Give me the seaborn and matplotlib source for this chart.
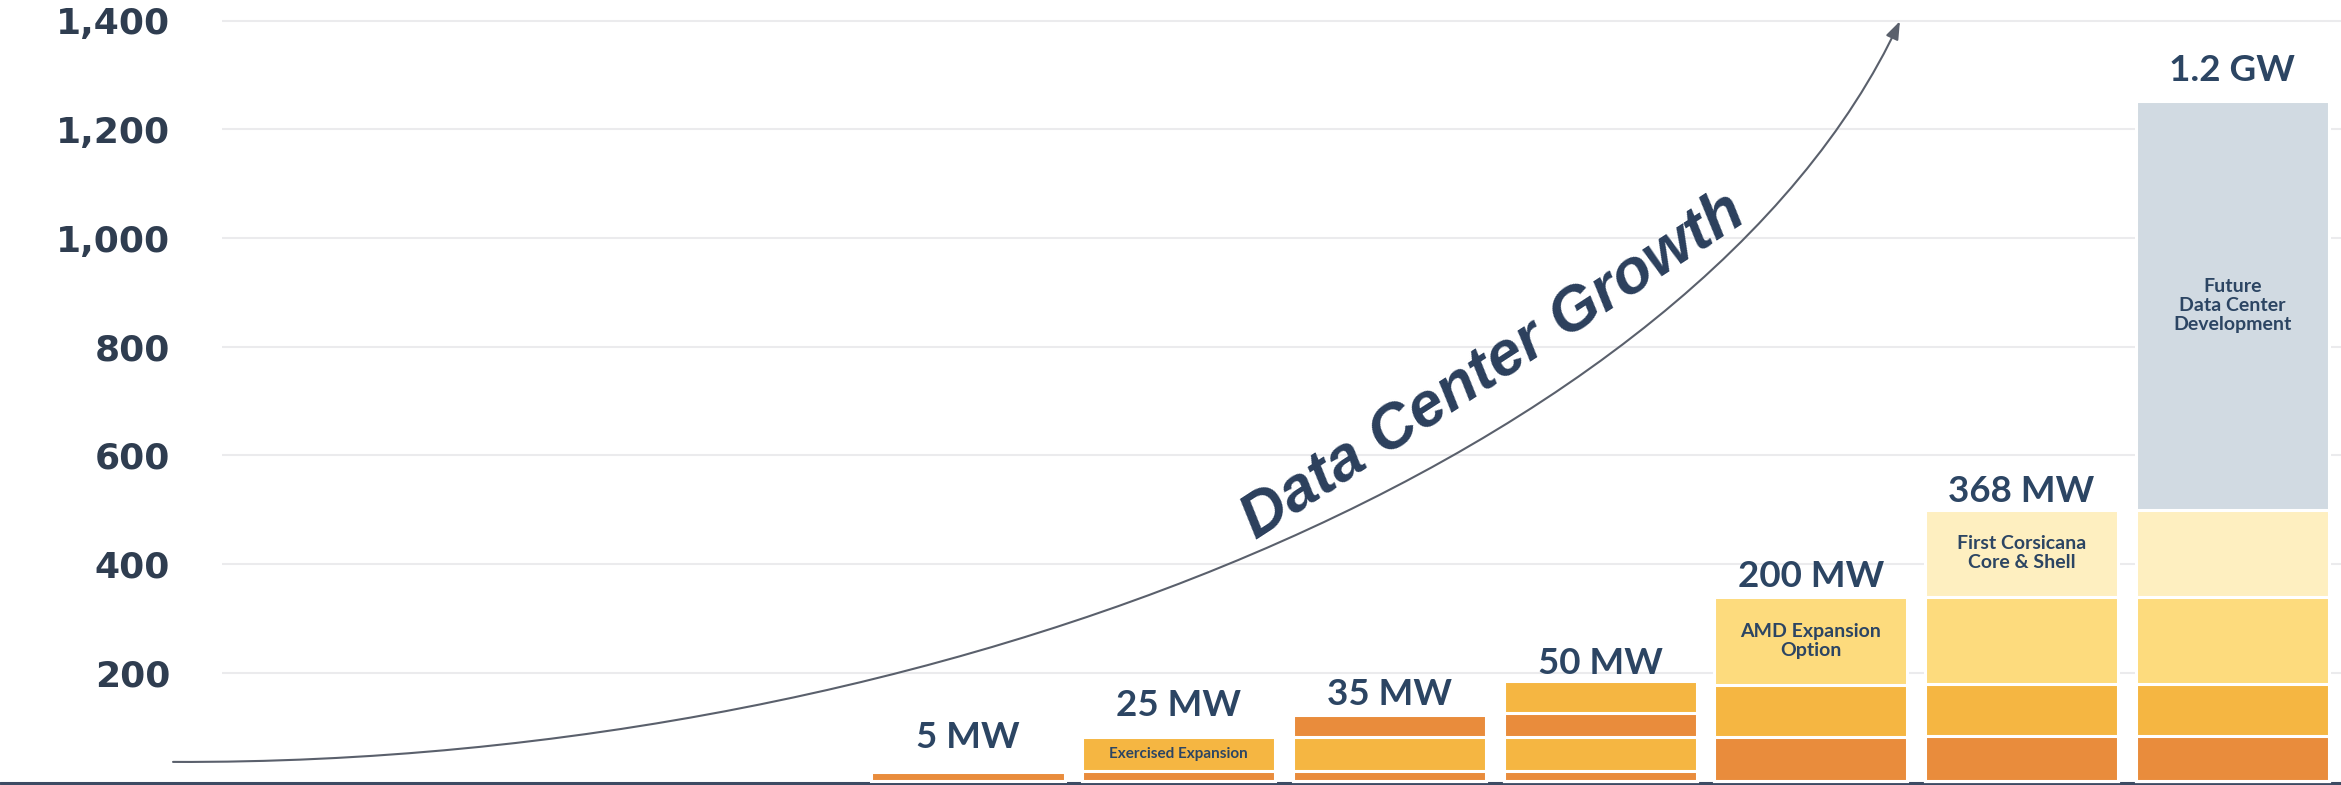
# ==========================================================
# DATA CENTER GROWTH - STACKED CAPACITY BLOCKS
# ==========================================================

import pandas as pd
import matplotlib
matplotlib.use("Agg")
import matplotlib.pyplot as plt
import seaborn as sns
from matplotlib.patches import FancyArrowPatch
from matplotlib.path import Path

# ==========================
# Data
# ==========================

bar_labels = ["5 MW", "25 MW", "35 MW", "50 MW", "200 MW", "368 MW", "1.2 GW"]

# cumulative top of each block in a bar, bottom to top (axis units)
block_tops = [
    [18],
    [19, 81],
    [19, 82, 122],
    [19, 82, 126, 184],
    [81, 178, 339],
    [83, 180, 340, 500],
    [83, 179, 340, 499, 1252],
]

block_kinds = [
    ["base"],
    ["base", "phase2"],
    ["base", "phase2", "base"],
    ["base", "phase2", "base", "phase2"],
    ["base", "phase2", "phase3"],
    ["base", "phase2", "phase3", "phase4"],
    ["base", "phase2", "phase3", "phase4", "future"],
]

# text inside a block: (bar index, block index, text)
block_notes = [
    (1, 1, "Exercised Expansion"),
    (4, 2, "AMD Expansion\nOption"),
    (5, 3, "First Corsicana\nCore & Shell"),
    (6, 4, "Future\nData Center\nDevelopment"),
]

y_ticks = [200, 400, 600, 800, 1000, 1200, 1400]

# ==========================
# Styling
# ==========================

kind_colors = {
    "base": "#E98C3C",
    "phase2": "#F5B642",
    "phase3": "#FDDB7D",
    "phase4": "#FEEFC0",
    "future": "#D1DAE2",
}
note_sizes = [11, 14, 14, 14]
label_pads_px = [22, 20, 9, 6, 9, 6, 19]
navy = "#2C4563"

# ==========================
# Long table of blocks
# ==========================

rows = []
for i, (tops, kinds) in enumerate(zip(block_tops, block_kinds)):
    for k, (top, kind) in enumerate(zip(tops, kinds)):
        rows.append({
            "bar": bar_labels[i],
            "level": k,
            "top": top,
            "color": kind_colors[kind],
        })
blocks = pd.DataFrame(rows)

# ==========================
# Figure
# ==========================

sns.set_style("white")

W, H = 2341, 785
fig = plt.figure(figsize=(W / 100, H / 100), dpi=100)
left_px = 222
ax = fig.add_axes([left_px / W, 0, 1 - left_px / W, 1])

# draw the tallest layer first, lower blocks cover it
for level in sorted(blocks["level"].unique(), reverse=True):
    layer = blocks[blocks["level"] == level]
    sns.barplot(
        data=layer,
        x="bar",
        y="top",
        hue="bar",
        order=bar_labels,
        palette=dict(zip(layer["bar"], layer["color"])),
        saturation=1,
        dodge=False,
        width=0.916,
        errorbar=None,
        edgecolor="white",
        linewidth=2.2,
        legend=False,
        ax=ax,
    )

pitch = 210.7
ax.set_xlim(-(968 - left_px) / pitch, (W - 968) / pitch)
ax.set_ylim(-6.5, 1438)

ax.set_xticks([])
ax.set_xlabel("")
ax.set_ylabel("")
ax.set_yticks(y_ticks)
ax.set_yticklabels([f"{t:,}" for t in y_ticks])
ax.tick_params(axis="y", length=0, pad=52 * 0.72, labelsize=26, labelcolor="#2F3D50")
for lbl in ax.get_yticklabels():
    lbl.set_fontweight("bold")
    lbl.set_family("DejaVu Sans")

ax.grid(axis="y", color="#EBEBED", linewidth=1.5)
ax.set_axisbelow(True)
sns.despine(ax=ax, left=True, bottom=True)

# dark base line running across the whole picture
ax.axhline(-3.7, xmin=-left_px / (W - left_px), xmax=1, color="#3D4B63",
           linewidth=2.2, clip_on=False, zorder=0.5)

# ==========================
# Labels
# ==========================

for i, label in enumerate(bar_labels):
    ax.annotate(
        label,
        xy=(i, block_tops[i][-1]),
        xytext=(0, (label_pads_px[i] + 1.5) * 0.72),
        textcoords="offset points",
        ha="center",
        va="baseline",
        fontsize=26.5,
        fontweight="bold",
        family="Lato",
        color=navy,
    )

for (i, k, text), size in zip(block_notes, note_sizes):
    top = block_tops[i][k]
    bottom = block_tops[i][k - 1] if k else 0
    ax.text(i, (top + bottom) / 2, text, ha="center", va="center",
            fontsize=size, fontweight="bold", family="Lato", color=navy,
            linespacing=1.15)

# ==========================
# Growth arrow
# ==========================

curve = Path(
    [(-3.773, 36), (-0.085, 30), (3.474, 610), (4.423, 1399)],
    [Path.MOVETO, Path.CURVE4, Path.CURVE4, Path.CURVE4],
)
arrow = FancyArrowPatch(
    path=curve,
    arrowstyle="-|>,head_length=0.6,head_width=0.22",
    mutation_scale=18,
    color="#5A606C",
    linewidth=1.5,
    clip_on=False,
    zorder=3,
)
ax.add_patch(arrow)

ax.text(2.49, 765, "Data Center Growth", rotation=33, rotation_mode="anchor",
        ha="center", va="center", fontsize=45, fontweight="bold",
        fontstyle="italic", family="Liberation Sans", color="#2B3F5C")

fig.savefig("out.png", dpi=100)
